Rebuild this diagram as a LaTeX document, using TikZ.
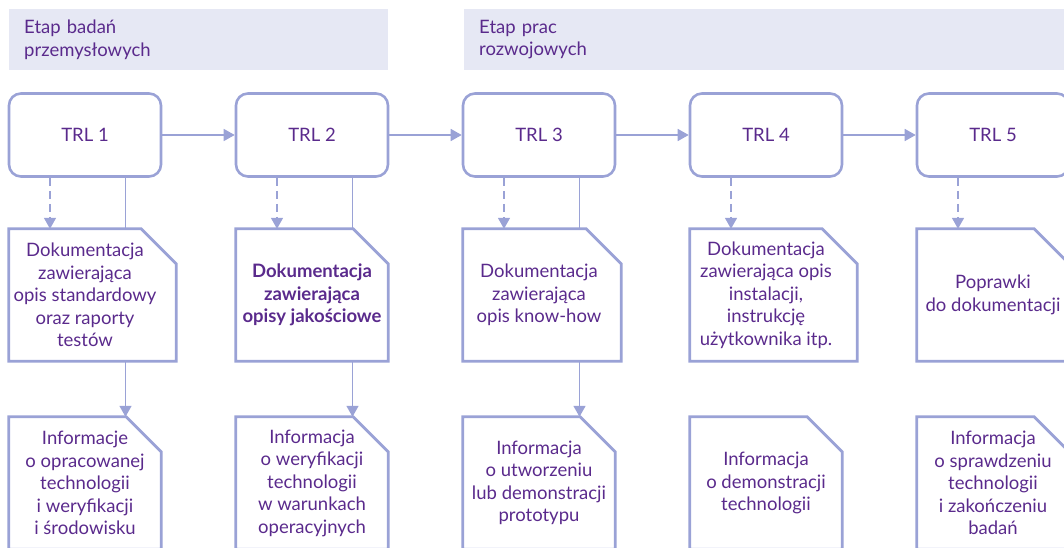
\documentclass[tikz,border=0pt]{standalone}
\usepackage{fontspec}
\setmainfont{Lato}
\usetikzlibrary{arrows.meta}
\definecolor{ink}{HTML}{5A2A8C}
\definecolor{edge}{HTML}{9AA2D6}
\definecolor{band}{HTML}{E6E8F4}

\tikzset{
  txt/.style={font=\fontsize{18.5pt}{22.5pt}\selectfont, text=ink, align=center},
  banner/.style={txt, fill=band, anchor=north west, align=left,
    text width=349pt, inner xsep=15pt, inner ysep=0pt, minimum height=61pt},
  trlbox/.style={txt, draw=edge, line width=2.6pt, rounded corners=12pt,
    minimum width=152pt, minimum height=83pt, inner sep=0pt},
  sheet/.style={txt, minimum width=152pt, minimum height=132pt, inner sep=0pt},
  outline/.style={draw=edge, line width=2.8pt, line join=miter},
  link/.style={draw=edge, line width=1.5pt},
  flow/.style={link, -{Triangle[length=11pt,width=12pt]}},
  hint/.style={flow, dash pattern=on 8pt off 5pt}
}

% sheet outline with a cut top-right corner; #2 widens the sheet to the right
\newcommand\cutsheet[2]{%
  \draw[outline] (#1.north west) -- ([xshift=#2-35pt]#1.north east)
    -- ([xshift=#2,yshift=-35pt]#1.north east) -- ([xshift=#2]#1.south east)
    -- (#1.south west) -- cycle;}

\begin{document}
\begin{tikzpicture}[x=1pt,y=-1pt]
  \clip (0,0) rectangle (1064,548);

  % stage banners
  \node[banner] (stage1) at (9,9) {Etap badań\\przemysłowych};
  \node[banner, text width=570pt] (stage2) at (464,9) {Etap prac\\rozwojowych};

  % TRL levels
  \foreach \i/\cx in {1/85,2/312,3/539,4/766,5/993}
    \node[trlbox] (trl\i) at (\cx,135) {TRL \i};

  % documentation sheets
  \node[sheet] (doc1) at (85,295) {Dokumentacja\\zawierająca\\opis standardowy\\oraz raporty\\testów};
  \node[sheet, font=\fontsize{18.5pt}{22.5pt}\selectfont\bfseries] (doc2) at (312,295) {Dokumentacja\\zawierająca\\opisy jakościowe};
  \node[sheet] (doc3) at (539,295) {Dokumentacja\\zawierająca\\opis know-how};
  \node[sheet] (doc4) at (766,295) {Dokumentacja\\zawierająca opis\\instalacji,\\instrukcję\\użytkownika itp.};
  \node[sheet] (doc5) at (993,295) {Poprawki\\do dokumentacji};
  \cutsheet{doc1}{15pt}
  \cutsheet{doc2}{0pt}
  \cutsheet{doc3}{6pt}
  \cutsheet{doc4}{15pt}
  \cutsheet{doc5}{0pt}

  % information sheets
  \node[sheet] (info1) at (85,483) {Informacje\\o opracowanej\\technologii\\i weryfikacji\\i środowisku};
  \node[sheet] (info2) at (312,483) {Informacja\\o weryfikacji\\technologii\\w warunkach\\operacyjnych};
  \node[sheet] (info3) at (539,483) {Informacja\\o utworzeniu\\lub demonstracji\\prototypu};
  \node[sheet] (info4) at (766,483) {Informacja\\o demonstracji\\technologii};
  \node[sheet] (info5) at (993,483) {Informacja\\o sprawdzeniu\\technologii\\i zakończeniu\\badań};
  \foreach \i in {1,...,5} { \cutsheet{info\i}{0pt} }

  % sequence of levels
  \foreach \a/\b in {1/2,2/3,3/4,4/5}
    \draw[flow] (trl\a) -- (trl\b);

  % level to documentation
  \foreach \i in {1,...,5}
    \draw[hint] ([xshift=-35pt]trl\i.south) -- ([xshift=-35pt]doc\i.north);

  % level to information, running past the documentation sheet
  \foreach \i in {1,2,3} {
    \draw[link] ([xshift=40.5pt]trl\i.south) -- ([xshift=40.5pt]doc\i.north);
    \draw[flow] ([xshift=40.5pt]doc\i.south) -- ([xshift=40.5pt]info\i.north);
  }
\end{tikzpicture}
\end{document}
